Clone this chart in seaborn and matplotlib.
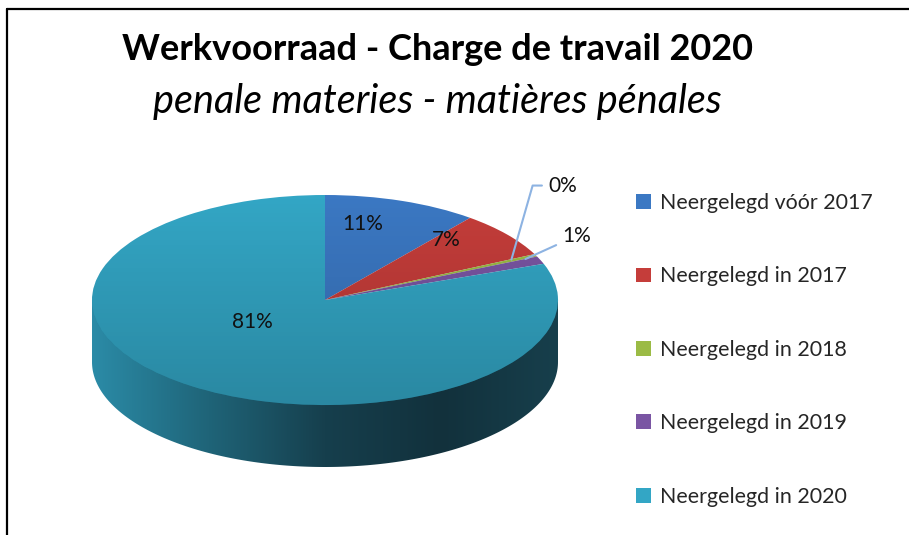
import numpy as np
import matplotlib.pyplot as plt
import seaborn as sns
from matplotlib.colors import LinearSegmentedColormap
from matplotlib.path import Path
from matplotlib.patches import PathPatch, Ellipse

# Data
labels = ['Neergelegd vóór 2017', 'Neergelegd in 2017', 'Neergelegd in 2018',
          'Neergelegd in 2019', 'Neergelegd in 2020']
shares = [10.7, 7.1, 0.4, 1.2, 80.6]
colors = ['#3b78c3', '#c53d3a', '#9bbb45', '#7a55a3', '#33a6c5']

# Plot configurations
W, H = 909, 535
DEPTH = 0.59  # thickness of the pie, in y radii
FONT = 'Lato'
LS = 15  # label size

sns.set_theme(style='white')
plt.rcParams['font.family'] = [FONT, 'DejaVu Sans']

fig = plt.figure(figsize=(W / 100, H / 100), dpi=100)
fig.patch.set_facecolor('white')

# squashed axes so that the circle turns into an ellipse (rx=233px, ry=105px)
ax = fig.add_axes([68.7 / W, (H - 477.5) / H, 512.6 / W, 293 / H])
ax.set_aspect('auto')

# side wall of the pie, with a horizontal gradient
side_cmap = LinearSegmentedColormap.from_list(
    'side', ['#2b8ba7', '#1f6478', '#163f4d', '#12313c', '#173f4c'])
theta = np.linspace(0, -np.pi, 200)
verts = [(-1, 0), (1, 0), (1, -DEPTH)] + \
    [(np.cos(t), np.sin(t) - DEPTH) for t in theta] + [(-1, 0)]
side_patch = PathPatch(Path(verts, closed=True), facecolor='none', edgecolor='none')
ax.add_patch(side_patch)
grad = np.linspace(0, 1, 256).reshape(1, -1)
img = ax.imshow(grad, cmap=side_cmap, extent=(-1, 1, -DEPTH - 1, 0),
                aspect='auto', zorder=1)
img.set_clip_path(side_patch)

# top surface
wedges, texts, autotexts = ax.pie(
    shares, colors=colors, startangle=90, counterclock=False,
    autopct='%.0f%%', pctdistance=0.72,
    wedgeprops=dict(linewidth=0),
    textprops=dict(fontsize=LS, color='#111111'))
for w in wedges:
    w.set_zorder(2)

# light-to-dark shading on the top face
top_clip = Ellipse((0, 0), 2, 2, facecolor='none', edgecolor='none')
ax.add_patch(top_clip)
shade = np.zeros((256, 1, 4))
shade[..., 3] = np.linspace(0, 0.18, 256).reshape(-1, 1)
sh = ax.imshow(shade, extent=(-1, 1, -1, 1), aspect='auto', zorder=3)
sh.set_clip_path(top_clip)

# label placement (0% and 1% get leader lines)
label_pos = [(0.16, 0.72), (0.52, 0.57), None, None, (-0.31, -0.21)]
for t, p in zip(autotexts, label_pos):
    t.set_zorder(5)
    if p is not None:
        t.set_position(p)
    else:
        t.set_visible(False)

leader = dict(arrowstyle='-', color='#8db3e2', lw=1.5, shrinkA=2, shrinkB=0)
ax.annotate(autotexts[2].get_text(), xy=(0.80, 0.385), xytext=(0.957, 1.09),
            ha='left', va='center', fontsize=LS, color='#111111', zorder=5,
            arrowprops=dict(**leader, connectionstyle='angle,angleA=0,angleB=74,rad=0'))
ax.annotate(autotexts[3].get_text(), xy=(0.86, 0.39), xytext=(1.017, 0.61),
            ha='left', va='center', fontsize=LS, color='#111111', zorder=5,
            arrowprops=dict(**leader))

ax.set_xlim(-1.1, 1.1)
ax.set_ylim(-1.1 - DEPTH, 1.1)
ax.axis('off')

# legend
leg = fig.legend(wedges, labels, loc='upper left', bbox_to_anchor=(636 / W, 1 - 193 / H),
                 frameon=False, fontsize=15.4, labelspacing=2.5,
                 handlelength=0.7, handleheight=0.7, handletextpad=0.4,
                 borderaxespad=0, borderpad=0)

# titles
fig.text(437 / W, 1 - 50 / H, 'Werkvoorraad - Charge de travail 2020',
         ha='center', va='center', fontsize=26, fontweight='bold', color='black')
fig.text(437 / W, 1 - 101 / H, 'penale materies - matières pénales',
         ha='center', va='center', fontsize=28.5, fontstyle='italic', color='black')

# chart border (top and left visible)
fig.add_artist(plt.Line2D([7 / W, 1], [1 - 9 / H, 1 - 9 / H], color='black', lw=1.6))
fig.add_artist(plt.Line2D([7 / W, 7 / W], [0, 1 - 9 / H], color='black', lw=1.6))

fig.savefig('out.png', dpi=100, facecolor='white')
